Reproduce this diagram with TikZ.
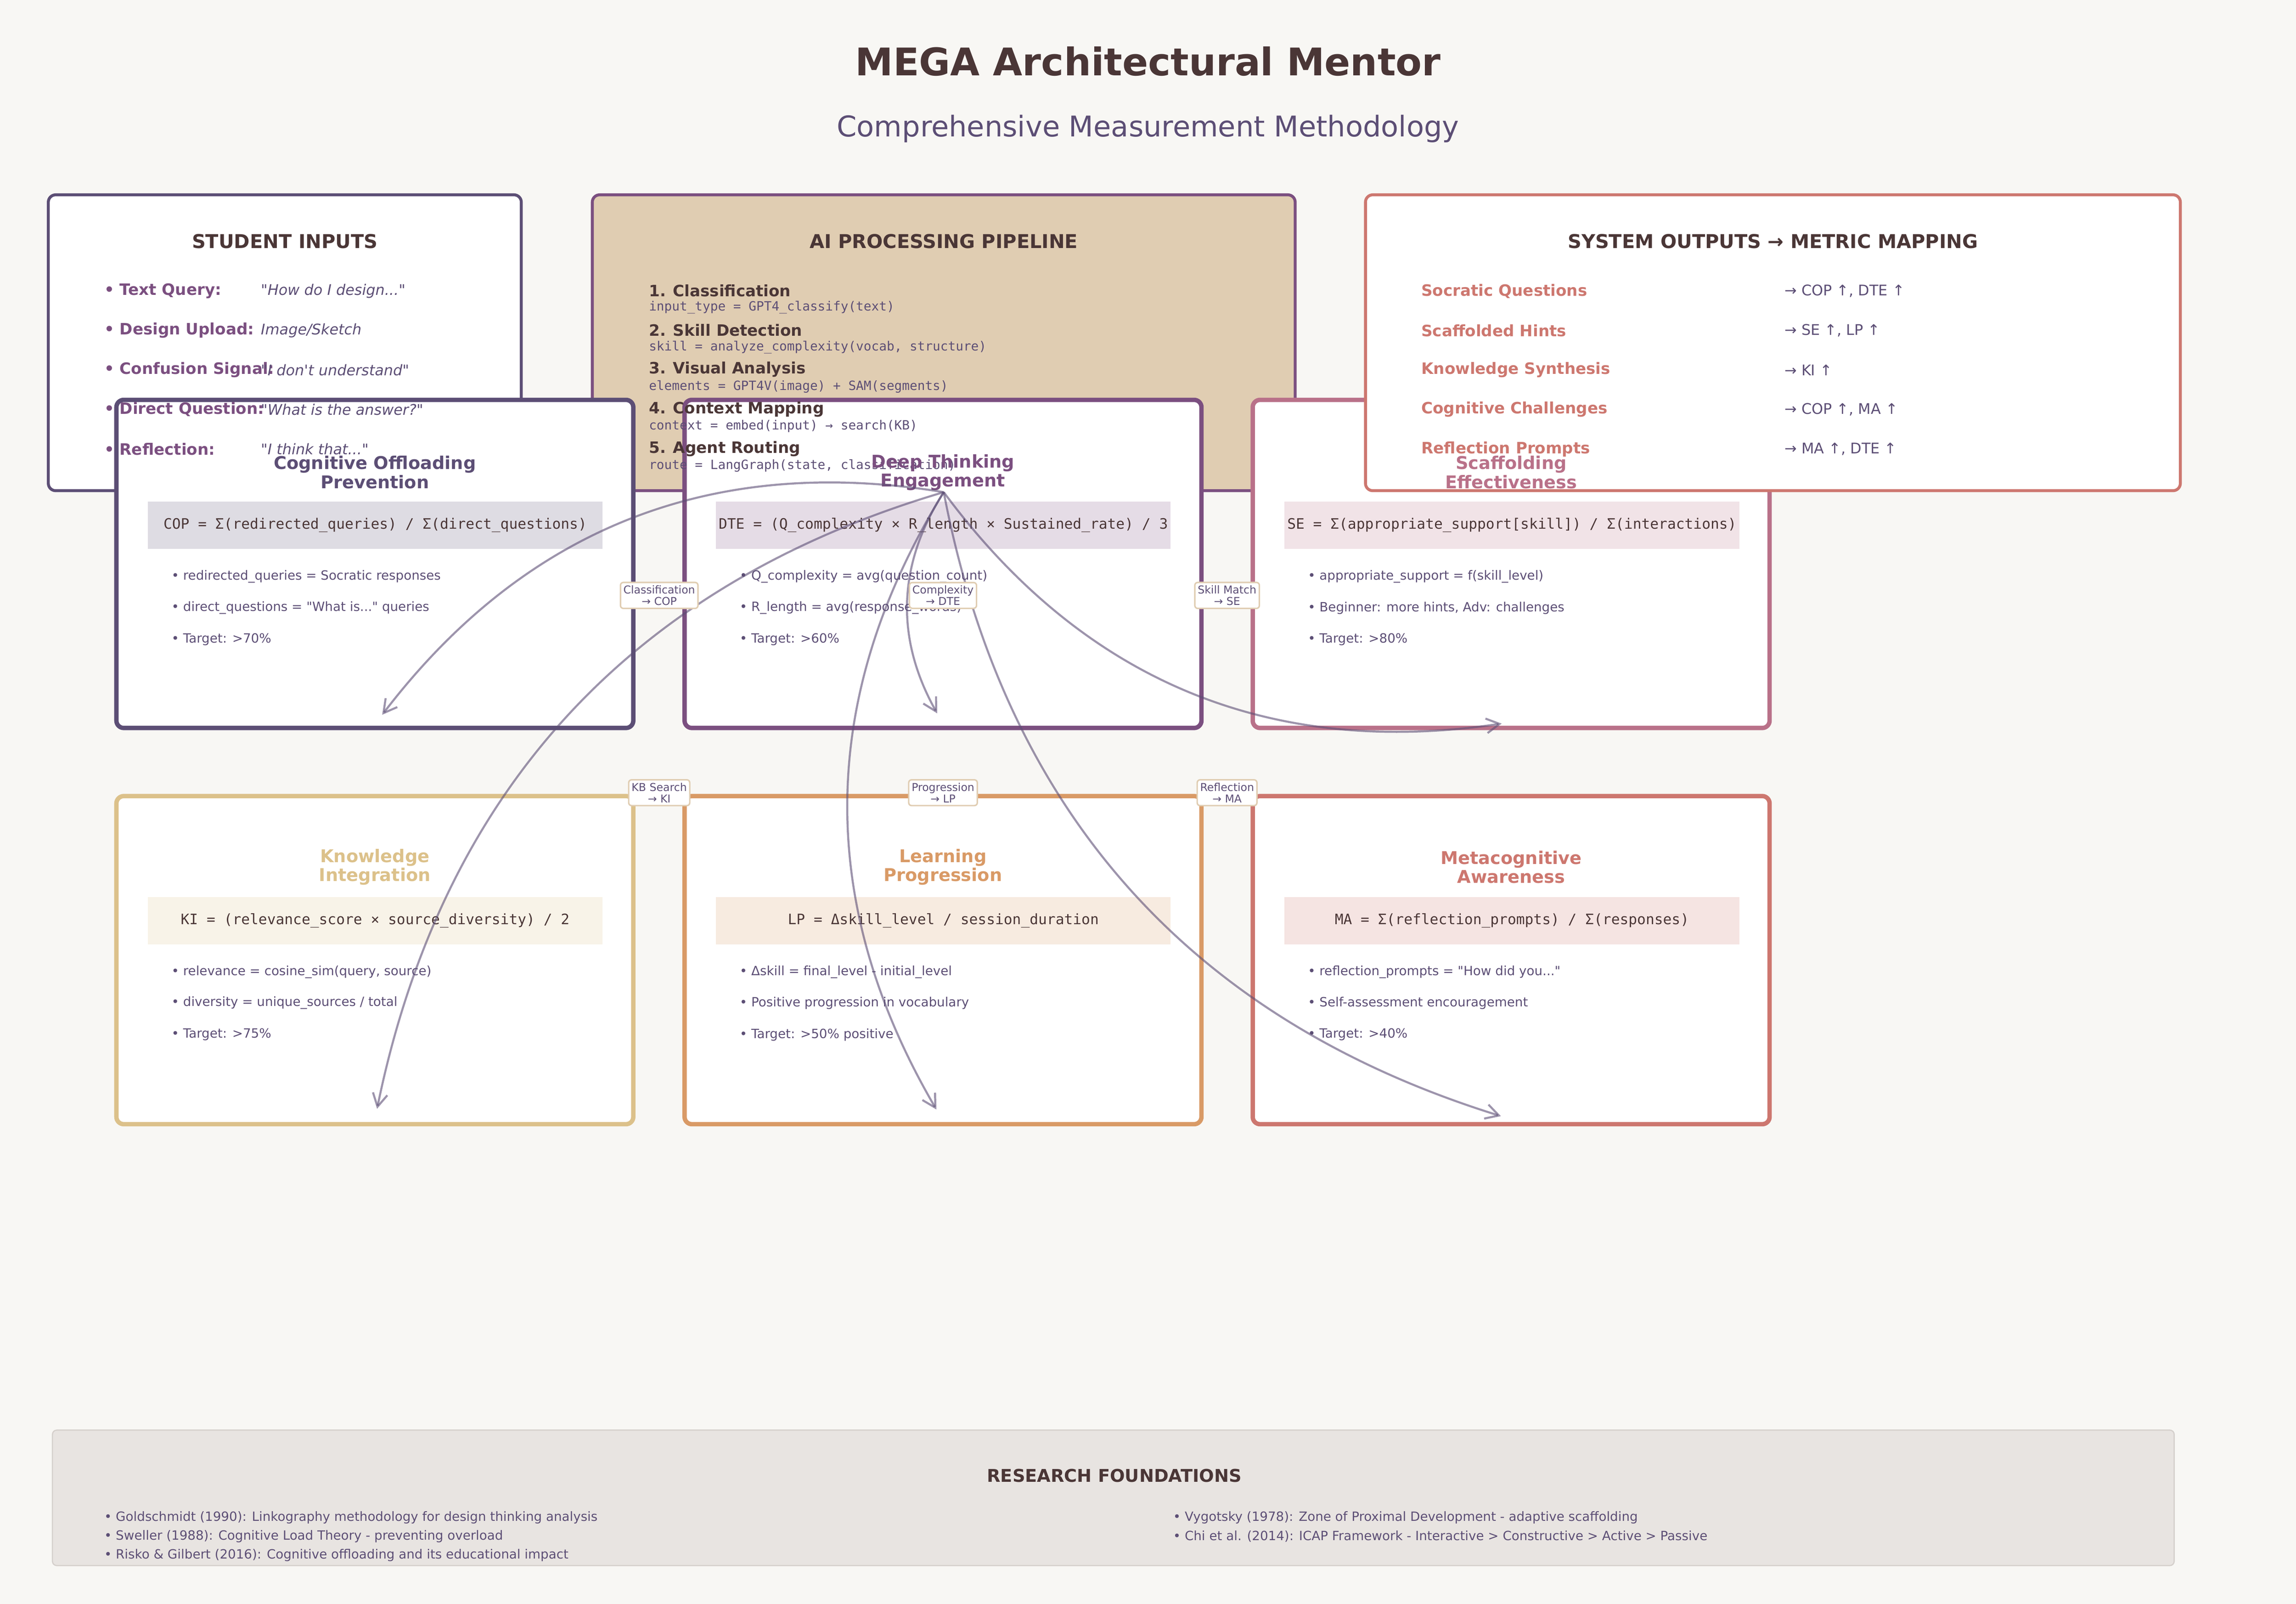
\documentclass[tikz,border=0pt]{standalone}
\usepackage{fontspec}
\setmainfont{DejaVu Sans}[Ligatures=TeXOff]
\setmonofont{DejaVu Sans Mono}
\usetikzlibrary{arrows.meta,calc}

\definecolor{paper}{HTML}{F8F7F4}
\definecolor{ink}{HTML}{4A3636}
\definecolor{slate}{HTML}{5C4E75}
\definecolor{plum}{HTML}{7B4F80}
\definecolor{mauve}{HTML}{B97189}
\definecolor{wheat}{HTML}{DCC18A}
\definecolor{amber}{HTML}{D99A66}
\definecolor{coral}{HTML}{CD776F}
\definecolor{sand}{HTML}{E0CDB2}
\definecolor{mist}{HTML}{E8E4E1}
\definecolor{mistline}{HTML}{D5D0CC}

\tikzset{
  panel/.style={draw=#1, line width=2pt, rounded corners=5pt, fill=white, inner sep=0pt, minimum height=202pt},
  metric/.style={draw=#1, line width=3pt, rounded corners=5pt, fill=white, inner sep=0pt, minimum width=353pt, minimum height=224pt},
  formula/.style={fill=#1!20, inner sep=0pt, minimum width=310.5pt, minimum height=32.3pt, text=ink, font=\ttfamily\fontsize{9.8}{11}\selectfont},
  head/.style={text=ink, font=\bfseries\fontsize{13}{15}\selectfont},
  mtitle/.style={text=#1, align=center, font=\bfseries\fontsize{12}{13}\selectfont},
  label/.style={anchor=west, inner sep=0pt, text=#1, font=\bfseries\fontsize{10.7}{12}\selectfont},
  value/.style={anchor=west, inner sep=0pt, text=slate, font=\fontsize{10}{12}\selectfont},
  code/.style={anchor=west, inner sep=0pt, text=slate, font=\ttfamily\fontsize{8.7}{10}\selectfont},
  note/.style={anchor=west, inner sep=0pt, text=slate, font=\fontsize{8.7}{10}\selectfont},
  tag/.style={draw=sand, line width=1pt, fill=white, rounded corners=2pt, inner sep=2pt, align=center, text=slate, font=\fontsize{7.4}{8}\selectfont},
  flow/.style={draw=slate, opacity=.6, line width=1.4pt, -{Straight Barb[length=9pt,width=10pt]}}
}

\begin{document}
\begin{tikzpicture}[x=1pt,y=-1pt]
  \fill[paper] (0,0) rectangle (1568,1095);
  \useasboundingbox (0,0) rectangle (1568,1095);

  % header
  \node[text=ink, font=\bfseries\fontsize{26}{30}\selectfont] (title) at (784,42) {MEGA Architectural Mentor};
  \node[text=slate, font=\fontsize{19.5}{23}\selectfont] (subtitle) at (784,88) {Comprehensive Measurement Methodology};

  % frames, back to front
  \node[panel=slate, minimum width=323pt] (inputs) at (194.5,234) {};
  \node[panel=plum, fill=sand, minimum width=480pt] (pipe) at (644.5,234) {};
  \node[metric=slate] (cop) at (256,385) {};
  \node[metric=plum] (dte) at (644,385) {};
  \node[metric=mauve] (se) at (1032,385) {};
  \node[panel=coral, minimum width=556.5pt] (outputs) at (1210.75,234) {};
  \node[metric=wheat] (ki) at (256,655.5) {};
  \node[metric=amber] (lp) at (644,655.5) {};
  \node[metric=coral] (ma) at (1032,655.5) {};
  \node[draw=mistline, line width=.8pt, fill=mist, rounded corners=3pt, inner sep=0pt, minimum width=1449pt, minimum height=92.5pt] (refs) at (760.3,1022.6) {};

  % formula strips
  \node[formula=slate] (cop-f) at (256.2,358.6) {COP = Σ(redirected\_queries) / Σ(direct\_questions)};
  \node[formula=plum] (dte-f) at (644.2,358.6) {DTE = (Q\_complexity × R\_length × Sustained\_rate) / 3};
  \node[formula=mauve] (se-f) at (1032.5,358.6) {SE = Σ(appropriate\_support[skill]) / Σ(interactions)};
  \node[formula=wheat] (ki-f) at (256.2,628.5) {KI = (relevance\_score × source\_diversity) / 2};
  \node[formula=amber] (lp-f) at (644.2,628.5) {LP = Δskill\_level / session\_duration};
  \node[formula=coral] (ma-f) at (1032.5,628.5) {MA = Σ(reflection\_prompts) / Σ(responses)};

  % student inputs
  \node[head] (inputs-t) at (194.5,164.8) {STUDENT INPUTS};
  \node[label=plum] (in1) at (71,198.7) {• Text Query:};
  \node[value, font=\itshape\fontsize{10}{12}\selectfont] (in1v) at (178,198.7) {"How do I design..."};
  \node[label=plum] (in2) at (71,225.7) {• Design Upload:};
  \node[value, font=\itshape\fontsize{10}{12}\selectfont] (in2v) at (178,225.7) {Image/Sketch};
  \node[label=plum] (in3) at (71,252.6) {• Confusion Signal:};
  \node[value, font=\itshape\fontsize{10}{12}\selectfont] (in3v) at (178,252.6) {"I don't understand"};
  \node[label=plum] (in4) at (71,279.5) {• Direct Question:};
  \node[value, font=\itshape\fontsize{10}{12}\selectfont] (in4v) at (178,279.5) {"What is the answer?"};
  \node[label=plum] (in5) at (71,306.6) {• Reflection:};
  \node[value, font=\itshape\fontsize{10}{12}\selectfont] (in5v) at (178,306.6) {"I think that..."};

  % pipeline
  \node[head] (pipe-t) at (644.5,164.8) {AI PROCESSING PIPELINE};
  \node[label=ink] (st1) at (443,198.4) {1. Classification};
  \node[code] (st1c) at (443,210) {input\_type = GPT4\_classify(text)};
  \node[label=ink] (st2) at (443,225.3) {2. Skill Detection};
  \node[code] (st2c) at (443,237.1) {skill = analyze\_complexity(vocab, structure)};
  \node[label=ink] (st3) at (443,252.3) {3. Visual Analysis};
  \node[code] (st3c) at (443,263.9) {elements = GPT4V(image) + SAM(segments)};
  \node[label=ink] (st4) at (443,279.4) {4. Context Mapping};
  \node[code] (st4c) at (443,290.9) {context = embed(input) → search(KB)};
  \node[label=ink] (st5) at (443,306.4) {5. Agent Routing};
  \node[code] (st5c) at (443,318) {route = LangGraph(state, classification)};

  % outputs
  \node[head] (outputs-t) at (1210.75,164.8) {SYSTEM OUTPUTS → METRIC MAPPING};
  \node[label=coral] (out1) at (970.5,198.7) {Socratic Questions};
  \node[value] (out1v) at (1218.5,198.7) {→ COP ↑, DTE ↑};
  \node[label=coral] (out2) at (970.5,225.7) {Scaffolded Hints};
  \node[value] (out2v) at (1218.5,225.7) {→ SE ↑, LP ↑};
  \node[label=coral] (out3) at (970.5,252.6) {Knowledge Synthesis};
  \node[value] (out3v) at (1218.5,252.6) {→ KI ↑};
  \node[label=coral] (out4) at (970.5,279.5) {Cognitive Challenges};
  \node[value] (out4v) at (1218.5,279.5) {→ COP ↑, MA ↑};
  \node[label=coral] (out5) at (970.5,306.6) {Reflection Prompts};
  \node[value] (out5v) at (1218.5,306.6) {→ MA ↑, DTE ↑};

  % metric titles and notes
  \node[mtitle=slate] (cop-t) at (256,322.5) {Cognitive Offloading\\Prevention};
  \node[note] (cop-n1) at (117,393.7) {• redirected\_queries = Socratic responses};
  \node[note] (cop-n2) at (117,415) {• direct\_questions = "What is..." queries};
  \node[note] (cop-n3) at (117,436.4) {• Target: >70\%};

  \node[mtitle=plum] (dte-t) at (644,322.5) {Deep Thinking\\Engagement};
  \node[note] (dte-n1) at (505,393.7) {• Q\_complexity = avg(question\_count)};
  \node[note] (dte-n2) at (505,415) {• R\_length = avg(response\_words)};
  \node[note] (dte-n3) at (505,436.4) {• Target: >60\%};

  \node[mtitle=mauve] (se-t) at (1032,322.5) {Scaffolding\\Effectiveness};
  \node[note] (se-n1) at (893,393.7) {• appropriate\_support = f(skill\_level)};
  \node[note] (se-n2) at (893,415) {• Beginner: more hints, Adv: challenges};
  \node[note] (se-n3) at (893,436.4) {• Target: >80\%};

  \node[mtitle=wheat] (ki-t) at (256,592) {Knowledge\\Integration};
  \node[note] (ki-n1) at (117,663.5) {• relevance = cosine\_sim(query, source)};
  \node[note] (ki-n2) at (117,684.7) {• diversity = unique\_sources / total};
  \node[note] (ki-n3) at (117,706.4) {• Target: >75\%};

  \node[mtitle=amber] (lp-t) at (644,592) {Learning\\Progression};
  \node[note] (lp-n1) at (505,663.5) {• Δskill = final\_level - initial\_level};
  \node[note] (lp-n2) at (505,684.7) {• Positive progression in vocabulary};
  \node[note] (lp-n3) at (505,706.4) {• Target: >50\% positive};

  \node[mtitle=coral] (ma-t) at (1032,592) {Metacognitive\\Awareness};
  \node[note] (ma-n1) at (893,663.5) {• reflection\_prompts = "How did you..."};
  \node[note] (ma-n2) at (893,684.7) {• Self-assessment encouragement};
  \node[note] (ma-n3) at (893,706.4) {• Target: >40\%};

  % research foundations
  \node[head, font=\bfseries\fontsize{12}{14}\selectfont] (refs-t) at (761,1007.3) {RESEARCH FOUNDATIONS};
  \node[note] (ref1) at (71,1036.1) {• Goldschmidt (1990): Linkography methodology for design thinking analysis};
  \node[note] (ref2) at (71,1048.8) {• Sweller (1988): Cognitive Load Theory - preventing overload};
  \node[note] (ref3) at (71,1061.9) {• Risko \& Gilbert (2016): Cognitive offloading and its educational impact};
  \node[note] (ref4) at (801,1036.1) {• Vygotsky (1978): Zone of Proximal Development - adaptive scaffolding};
  \node[note] (ref5) at (801,1048.8) {• Chi et al. (2014): ICAP Framework - Interactive > Constructive > Active > Passive};

  % routing arrows from the pipeline
  \coordinate (cop-tip) at (261,488);
  \coordinate (dte-tip) at (640,487);
  \coordinate (se-tip) at (1025.5,494);
  \coordinate (ki-tip) at (257.5,757);
  \coordinate (lp-tip) at (639.5,757.5);
  \coordinate (ma-tip) at (1025,762);
  \foreach \t in {cop,dte,se,ki,lp,ma}{
    \coordinate (bend) at ($(pipe.south)!.5!(\t-tip)!.6!-90:(\t-tip)$);
    \draw[flow] (pipe.south) .. controls ($(pipe.south)!2/3!(bend)$) and ($(\t-tip)!2/3!(bend)$) .. (\t-tip);
  }

  % arrow tags
  \node[tag] (tag-cop) at (450.2,406.5) {Classification\\→ COP};
  \node[tag] (tag-dte) at (644,406.5) {Complexity\\→ DTE};
  \node[tag] (tag-se) at (838,406.5) {Skill Match\\→ SE};
  \node[tag] (tag-ki) at (450.2,541.2) {KB Search\\→ KI};
  \node[tag] (tag-lp) at (644,541.2) {Progression\\→ LP};
  \node[tag] (tag-ma) at (838,541.2) {Reflection\\→ MA};
\end{tikzpicture}
\end{document}
